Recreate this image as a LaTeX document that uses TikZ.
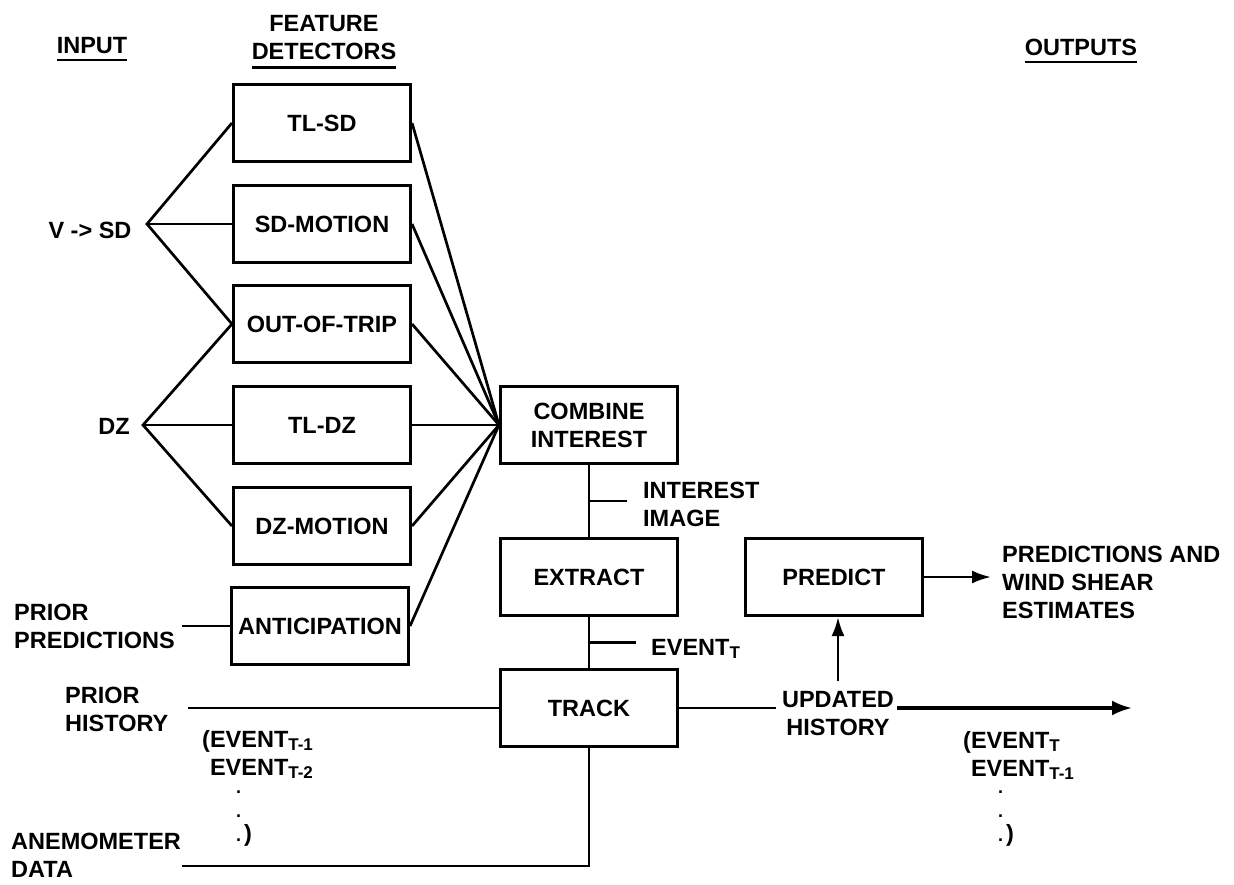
\documentclass[tikz,border=0pt]{standalone}
\usepackage{fontspec}
\setmainfont{Liberation Sans}
\usetikzlibrary{arrows.meta,calc}
% lowered subscript used in the event labels
\newcommand\sbs[1]{\raisebox{-3pt}{\fontsize{17}{17}\selectfont #1}}
% left- and centre-aligned stacks whose baseline is the first line
\newcommand\stackl[1]{\begin{tabular}[t]{@{}l@{}}#1\end{tabular}}
\newcommand\stackc[1]{\begin{tabular}[t]{@{}c@{}}#1\end{tabular}}
% a vertical ellipsis of full stops closing the history list
\newcommand\vdotsclose{\begin{tabular}[t]{@{}l@{}}\fontsize{18}{19}\selectfont .\\[-4pt]\fontsize{18}{19}\selectfont .\\[-4pt]\fontsize{18}{19}\selectfont .\,\fontsize{23.5}{19}\selectfont)\end{tabular}}
\begin{document}
\begin{tikzpicture}[x=1pt,y=-1pt,
  every node/.style={font=\fontsize{23.5}{28}\selectfont\bfseries, inner sep=0pt},
  blk/.style={draw, line width=3.1pt, minimum width=177pt, minimum height=77pt, align=center},
  wire/.style={line width=2.7pt},
  ulin/.style={line width=2.8pt},
  lbl/.style={anchor=base west},
  arr/.style={wire, -{Latex[length=19pt,width=13pt]}},
  bigarr/.style={line width=3.6pt, -{Latex[length=20pt,width=15pt]}}]
\useasboundingbox (0,0) rectangle (1234,884);

% column headings
\node[anchor=base] (hin) at (92,53) {INPUT};
\draw[ulin] ([yshift=-7pt]hin.base west) -- ([yshift=-7pt]hin.base east);
\node[anchor=base] (hfd) at (324,31) {\stackc{FEATURE\\DETECTORS}};
\draw[ulin] (hfd.south west) -- (hfd.south east);
\node[anchor=base] (hout) at (1081,55) {OUTPUTS};
\draw[ulin] ([yshift=-7pt]hout.base west) -- ([yshift=-7pt]hout.base east);

% feature detectors
\node[blk] (tlsd) at (322,123) {TL-SD};
\node[blk] (sdm)  at (322,224) {SD-MOTION};
\node[blk] (oot)  at (322,324) {OUT-OF-TRIP};
\node[blk] (tldz) at (322,425) {TL-DZ};
\node[blk] (dzm)  at (322,526) {DZ-MOTION};
\node[blk] (ant)  at (320,626) {ANTICIPATION};

% processing chain
\node[blk] (comb) at (589,425) {COMBINE\\INTEREST};
\node[blk] (ext)  at (589,577) {EXTRACT};
\node[blk] (trk)  at (589,708) {TRACK};
\node[blk] (pred) at (834,577) {PREDICT};

% inputs
\node[anchor=base] (vsd) at (90,238) {V -> SD};
\coordinate (j1) at (147,224);
\node[anchor=base] (dz) at (114,434) {DZ};
\coordinate (j2) at (143,425);
\node[lbl] (pp) at (14,620) {\stackl{PRIOR\\PREDICTIONS}};
\node[lbl] (ph) at (65,703) {\stackl{PRIOR\\HISTORY}};
\node[lbl] (evl) at (202,747) {\stackl{(EVENT\sbs{T-1}\\\phantom{(}EVENT\sbs{T-2}}};
\node[lbl] (evld) at (236,793) {\vdotsclose};
\node[lbl] (anm) at (11,849) {\stackl{ANEMOMETER\\DATA}};

% fan-out from the inputs
\draw[wire] (tlsd.west) -- (j1) -- (oot.west);
\draw[wire] (j1) -- (sdm.west);
\draw[wire] (oot.west) -- (j2) -- (dzm.west);
\draw[wire] (j2) -- (tldz.west);
\draw[wire] (ant.west) -- ++(-48,0);

% fan-in to the combiner
\foreach \n in {tlsd,sdm,oot,tldz,dzm,ant}
  \draw[wire] (\n.east) -- (comb.west);

% chain links and their labels
\draw[wire] (comb.south) -- (ext.north);
\draw[wire] ($(comb.south)!0.5!(ext.north)$) -- ++(38,0);
\node[lbl] (ii) at (643,498) {\stackl{INTEREST\\IMAGE}};
\draw[wire] (ext.south) -- (trk.north);
\draw[wire] ($(ext.south)!0.5!(trk.north)$) -- ++(47,0);
\node[lbl] (evt) at (651,655) {EVENT\sbs{T}};

\draw[wire] (trk.west) -- ++(-311,0);
\draw[wire] (trk.south) |- ++(-407,118);

% outputs
\node[anchor=base] (uh) at (838,707) {\stackc{UPDATED\\HISTORY}};
\draw[wire] (trk.east) -- ++(97,0);
\draw[bigarr] (uh.east |- trk.east) ++(3,0) -- ++(235,0);
\draw[arr] ([yshift=6pt]uh.north) -- (uh.north |- pred.south);
\draw[arr] (pred.east) -- ++(67,0);
\node[lbl] (pw) at (1002,562) {\stackl{PREDICTIONS AND\\WIND SHEAR\\ESTIMATES}};
\node[lbl] (evr) at (963,748) {\stackl{(EVENT\sbs{T}\\\phantom{(}EVENT\sbs{T-1}}};
\node[lbl] (evrd) at (998,793) {\vdotsclose};
\end{tikzpicture}
\end{document}
